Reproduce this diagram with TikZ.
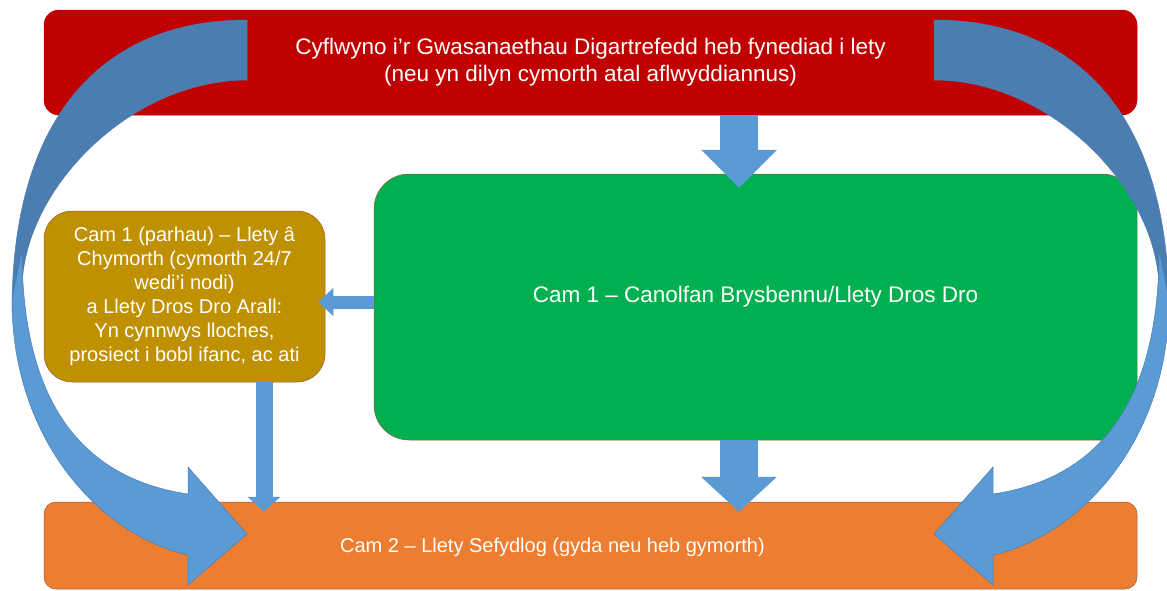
\documentclass[tikz,border=0pt]{standalone}
\usepackage{fontspec}
\setmainfont{Liberation Sans}
\usetikzlibrary{arrows.meta}
\definecolor{cyfred}{HTML}{C00000}
\definecolor{triagegreen}{HTML}{00B050}
\definecolor{supportgold}{HTML}{BF9000}
\definecolor{settledorange}{HTML}{ED7D31}
\definecolor{arrowblue}{HTML}{5B9BD5}
\definecolor{bandback}{HTML}{4C7DB0}
\definecolor{bandedge}{HTML}{4A7DB5}
\definecolor{boxedge}{HTML}{985A32}

\begin{document}
\begin{tikzpicture}[x=1pt, y=-1pt,
    box/.style={rounded corners=#1, text=white, align=center, inner sep=0pt, draw=boxedge, line width=0.5pt},
    blockarrow/.style n args={3}{draw=arrowblue, line width=#1, -{Triangle[width=#2, length=#3, line width=0pt]}}]
    \useasboundingbox (0,0) rectangle (1167,590);
    \fill[white] (0,0) rectangle (1167,590);
    % boxes
    \node[box=15pt, fill=cyfred, draw=cyfred, minimum width=1093pt, minimum height=105pt,
        font=\fontsize{22.5}{27}\selectfont] (present) at (590.5,62.5)
        {Cyflwyno i’r Gwasanaethau Digartrefedd heb fynediad i lety\\(neu yn dilyn cymorth atal aflwyddiannus)};
    \node[box=35pt, fill=triagegreen, minimum width=763pt, minimum height=266pt,
        font=\fontsize{22.5}{26}\selectfont] (triage) at (755.5,307)
        {Cam 1 – Canolfan Brysbennu/Llety Dros Dro\\\mbox{}};
    \node[box=28pt, fill=supportgold, minimum width=281pt, minimum height=171pt,
        font=\fontsize{20}{24}\selectfont] (supported) at (184.5,296.5)
        {Cam 1 (parhau) – Llety â\\Chymorth (cymorth 24/7\\wedi’i nodi)\\a Llety Dros Dro Arall:\\Yn cynnwys lloches,\\prosiect i bobl ifanc, ac ati};
    \node[box=12pt, fill=settledorange, minimum width=1093pt, minimum height=87pt] (settled) at (590.5,545.5) {};
    \node[text=white, font=\fontsize{20}{24}\selectfont] (settledtext) at ([xshift=-38pt, yshift=-2pt]settled.center)
        {Cam 2 – Llety Sefydlog (gyda neu heb gymorth)};
    % curved arrows, left one and its mirror image
    \foreach \flip/\off in {1/0, -1/1181}{
        \begin{scope}[xshift=\off pt, xscale=\flip]
            \filldraw[fill=bandback, draw=bandedge, line width=0.5pt]
                (247,20) .. controls (100,20) and (12,120) .. (12,310) -- (22,290)
                .. controls (22,190) and (130,80) .. (247,80) -- cycle;
            \filldraw[fill=arrowblue, draw=bandedge, line width=0.5pt]
                (12,300) .. controls (12,440) and (100,535) .. (188,555) -- (188,585)
                -- (247,534) -- (188,467) -- (188,494)
                .. controls (80,478) and (22,400) .. (22,250) -- cycle;
        \end{scope}
    }
    % straight arrows
    \coordinate (midx) at (739,0);
    \coordinate (midy) at (0,302);
    \coordinate (leftx) at (264,0);
    \draw[blockarrow={38pt}{76pt}{38pt}] (present.south -| midx) -- ([yshift=-14pt]triage.north -| midx);
    \draw[blockarrow={38pt}{76pt}{35pt}] (triage.south -| midx) -- ([yshift=-10pt]settled.north -| midx);
    \draw[blockarrow={13pt}{28pt}{15pt}] (triage.west |- midy) -- ([xshift=-7pt]supported.east |- midy);
    \draw[blockarrow={17pt}{33pt}{15pt}] (supported.south -| leftx) -- ([yshift=-10pt]settled.north -| leftx);
\end{tikzpicture}
\end{document}
